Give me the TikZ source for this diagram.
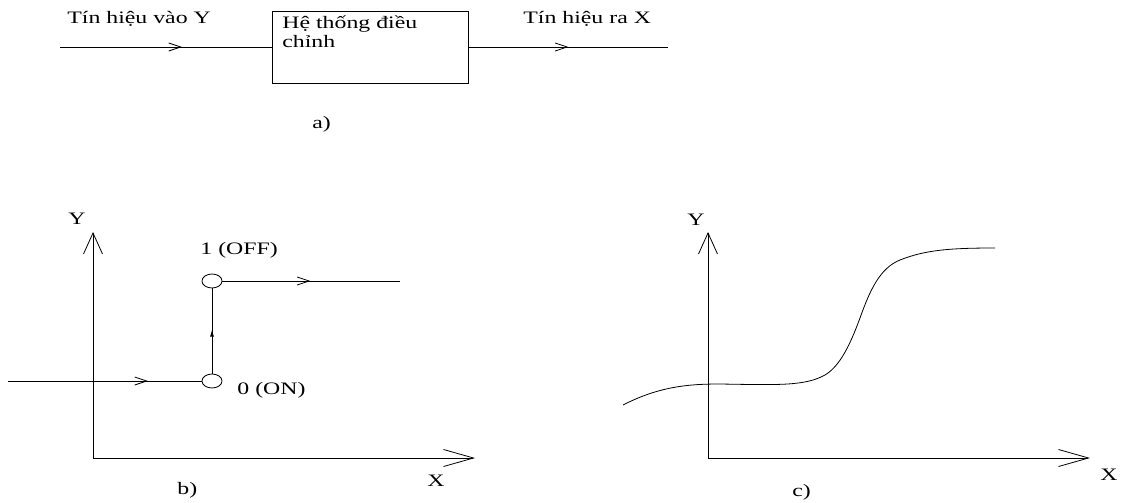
\documentclass[tikz,border=0pt]{standalone}
\usepackage{fontspec}
\usepackage{graphicx}
\setmainfont{Liberation Serif}
\usetikzlibrary{arrows.meta,decorations.markings,shapes.geometric}
\newcommand\stretchtxt[1]{\scalebox{1.36}[1]{#1}}
\begin{document}
\begin{tikzpicture}[x=1pt,y=-1pt,line width=0.8pt,
  lbl/.style={inner sep=0pt,anchor=base west,font=\fontsize{17.5}{21}\selectfont},
  midarrow/.style={postaction={decorate},decoration={markings,mark=at position #1 with {\arrow{Straight Barb[length=12pt,width=8pt]}}}},
  smallarrow/.style={postaction={decorate},decoration={markings,mark=at position #1 with {\arrow{Latex[length=7pt,width=4pt]}}}},
  yaxis/.style={-{Straight Barb[length=21pt,width=19pt]}},
  xaxis/.style={-{Straight Barb[length=30pt,width=17pt]}},
  state/.style={draw,ellipse,minimum width=20pt,minimum height=14pt,inner sep=0pt},
  blockbox/.style={draw,rectangle,minimum width=196pt,minimum height=72pt,inner sep=0pt}]
\useasboundingbox (0,0) rectangle (1124,503);

% ---- a) ----
\coordinate (in) at (60,47);
\coordinate (out) at (668,47);
\node[blockbox] (box) at (370,47) {};
\draw[midarrow=122pt] (in) -- (box.west |- in);
\draw[midarrow=100pt] (box.east |- out) -- (out);
\node[lbl] (tin) at (67,24) {\stretchtxt{Tín hiệu vào Y}};
\node[lbl] (tout) at (523,24) {\stretchtxt{Tín hiệu ra X}};
\node[lbl] (bt1) at (282,29) {\stretchtxt{Hệ thống điều}};
\node[lbl] (bt2) at (282,48) {\stretchtxt{chỉnh}};
\node[lbl] (la) at (312,128) {\stretchtxt{a)}};

% ---- b) ----
\coordinate (bo) at (93,458);
\coordinate (by) at (93,232);
\coordinate (bx) at (475,458);
\draw[yaxis] (bo) -- (by);
\draw[xaxis] (bo) -- (bx);
\node[state] (s0) at (212,381) {};
\node[state] (s1) at (212,281) {};
\coordinate (bin) at (8,381);
\coordinate (bend) at (400,281);
\draw[midarrow=140pt] (bin) -- (s0.west);
\draw[smallarrow=44pt] (s0.north) -- (s1.south);
\draw[midarrow=88pt] (s1.east) -- (bend);
\node[lbl] (bY) at (68,224) {\stretchtxt{Y}};
\node[lbl] (bX) at (427,486) {\stretchtxt{X}};
\node[lbl] (off) at (200,254) {\stretchtxt{1 (OFF)}};
\node[lbl] (on) at (237,394) {\stretchtxt{0 (ON)}};
\node[lbl] (lb) at (177,494) {\stretchtxt{b)}};

% ---- c) ----
\coordinate (co) at (708,458);
\coordinate (cy) at (708,232);
\coordinate (cx) at (1090,458);
\draw[yaxis] (co) -- (cy);
\draw[xaxis] (co) -- (cx);
\draw (623,405) .. controls (660,386) and (690,384) .. (720,384)
      .. controls (780,385) and (805,386) .. (825,375)
      .. controls (840,366) and (850,345) .. (860,318)
      .. controls (870,290) and (880,268) .. (900,260)
      .. controls (925,250) and (950,248) .. (995,248);
\node[lbl] (cY) at (687,225) {\stretchtxt{Y}};
\node[lbl] (cX) at (1100,480) {\stretchtxt{X}};
\node[lbl] (lc) at (792,496) {\stretchtxt{c)}};
\end{tikzpicture}
\end{document}
